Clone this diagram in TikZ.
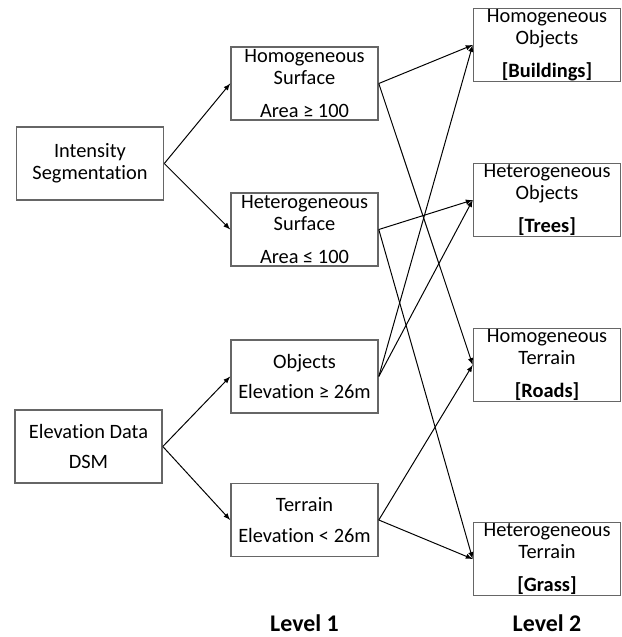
\documentclass[tikz,border=0pt]{standalone}
\usepackage{fontspec}
\setmainfont[Ligatures=NoCommon]{Carlito}
\begin{document}
\begin{tikzpicture}[x=0.025cm,y=-0.025cm]
		\tikzstyle{fleche}=[->,>=latex,line width=0.7pt]
		\tikzstyle{boite}=[draw=black!60,line width=1.1pt,minimum width=3.675cm,minimum height=1.83cm,align=center,inner sep=0pt,font=\fontsize{14.5}{15.6}\selectfont]
		\tikzstyle{niveau}=[font=\fontsize{17}{20}\selectfont\bfseries]
		\def\ColonneA{90}
		\def\ColonneB{304.5}
		\def\ColonneC{547}
		\useasboundingbox (0,0) rectangle (622,637);
		\node[boite] (Intensity) at (\ColonneA,163.5) {Intensity\\Segmentation};
		\node[boite] (Elevation) at (88.5,446.5) {Elevation Data\\[6pt]DSM};
		\node[boite] (HomSurf) at (\ColonneB,83.5) {Homogeneous\\Surface\\[8pt]Area ≥ 100};
		\node[boite] (HetSurf) at (\ColonneB,229.5) {Heterogeneous\\Surface\\[8pt]Area ≤ 100};
		\node[boite] (Obj) at (\ColonneB,376.5) {Objects\\[6pt]Elevation ≥ 26m};
		\node[boite] (Terr) at (\ColonneB,520) {Terrain\\[6pt]Elevation < 26m};
		\node[boite] (Buildings) at (\ColonneC,45) {Homogeneous\\Objects\\[8pt]\textbf{[Buildings]}};
		\node[boite] (Trees) at (\ColonneC,200) {Heterogeneous\\Objects\\[8pt]\textbf{[Trees]}};
		\node[boite] (Roads) at (\ColonneC,365) {Homogeneous\\Terrain\\[8pt]\textbf{[Roads]}};
		\node[boite] (Grass) at (\ColonneC,559) {Heterogeneous\\Terrain\\[8pt]\textbf{[Grass]}};
		\node[niveau] (Level1) at (\ColonneB,623) {Level 1};
		\node[niveau] (Level2) at (\ColonneC,623) {Level 2};
		\draw[fleche] (Intensity.east)--(HomSurf.west);
		\draw[fleche] (Intensity.east)--(HetSurf.west);
		\draw[fleche] (Elevation.east)--(Obj.west);
		\draw[fleche] (Elevation.east)--(Terr.west);
		\draw[fleche] (HomSurf.east)--(Buildings.west);
		\draw[fleche] (HomSurf.east)--(Roads.west);
		\draw[fleche] (HetSurf.east)--(Trees.west);
		\draw[fleche] (HetSurf.east)--(Grass.west);
		\draw[fleche] (Obj.east)--(Buildings.west);
		\draw[fleche] (Obj.east)--(Trees.west);
		\draw[fleche] (Terr.east)--(Roads.west);
		\draw[fleche] (Terr.east)--(Grass.west);
	\end{tikzpicture}
\end{document}
